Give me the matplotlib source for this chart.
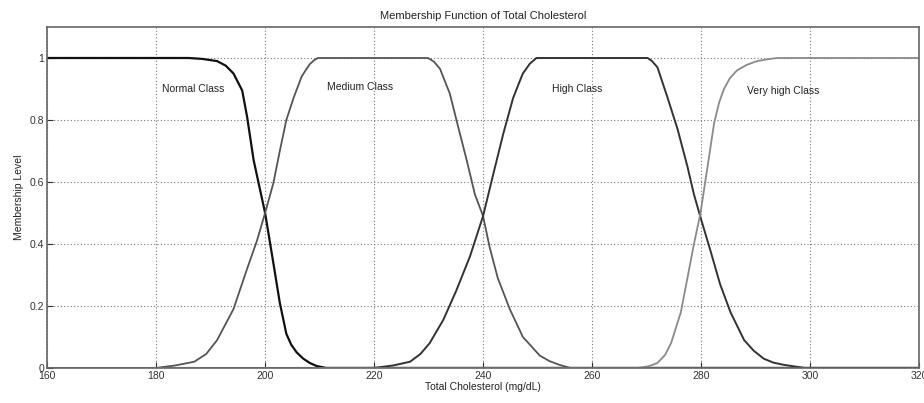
import matplotlib
matplotlib.use("Agg")
import matplotlib.pyplot as plt

# ---- data ----
normal_x = [160, 186, 188.5, 191.2, 192.8, 194.2, 195.8, 196.7, 197.9, 200, 201.5, 202.7, 203.9,
            204.8, 205.8, 207, 208.2, 209.5, 211.2, 320]
normal_y = [1, 1, 0.997, 0.99, 0.975, 0.95, 0.895, 0.81, 0.67, 0.50, 0.34, 0.21, 0.11,
            0.075, 0.05, 0.03, 0.016, 0.006, 0, 0]

medium_x = [160, 180, 183.5, 187, 189.2, 191.2, 194.2, 196.7, 198.5, 200, 201.5, 202.7, 203.9, 205.2,
            206.7, 207.5, 208.2, 209, 209.7,
            229.9, 231, 232.1, 233.9, 235.4, 237, 238.5, 240, 241.2, 242.7, 244.9, 247.3, 250.4,
            252.2, 254, 256, 320]
medium_y = [0, 0, 0.008, 0.02, 0.045, 0.09, 0.19, 0.32, 0.41, 0.50, 0.595, 0.70, 0.80, 0.87,
            0.94, 0.962, 0.98, 0.993, 1.0,
            1.0, 0.988, 0.965, 0.885, 0.78, 0.67, 0.56, 0.49, 0.39, 0.29, 0.19, 0.10, 0.04,
            0.022, 0.01, 0, 0]

high_x = [160, 220, 223.5, 226.6, 228.5, 230.2, 232.7, 235.1, 237.6, 240, 241.8, 243.7, 245.5, 246.5,
          247.3, 248.6, 249.8,
          270.2, 271, 272, 273.8, 275.7, 277.5, 278.7, 280, 281.7, 283.5, 285.4, 287.9, 289.7,
          291.5, 293.3, 295.2, 299, 320]
high_y = [0, 0, 0.008, 0.02, 0.045, 0.08, 0.155, 0.25, 0.36, 0.49, 0.62, 0.755, 0.87, 0.915,
          0.95, 0.982, 1.0,
          1.0, 0.99, 0.97, 0.875, 0.77, 0.65, 0.56, 0.48, 0.38, 0.27, 0.18, 0.09, 0.055,
          0.03, 0.017, 0.01, 0, 0]

vhigh_x = [160, 268.4, 270.5, 272, 273.4, 274.5, 276.3, 277.5, 278.7, 279.9, 281.2, 282.4, 283.3,
           284.2, 285.3, 286.6, 288.4, 290.3, 292.2, 294, 320]
vhigh_y = [0, 0, 0.006, 0.016, 0.042, 0.08, 0.18, 0.29, 0.40, 0.50, 0.65, 0.79, 0.855,
           0.90, 0.935, 0.96, 0.978, 0.99, 0.996, 1.0, 1.0]

class_labels = ["Normal Class", "Medium Class", "High Class", "Very high Class"]
label_pos_x = [181.0, 211.4, 252.7, 288.5]
label_pos_y = [0.90, 0.905, 0.90, 0.895]

x_ticks = [160, 180, 200, 220, 240, 260, 280, 300, 320]
y_ticks = [0, 0.2, 0.4, 0.6, 0.8, 1]
y_tick_labels = ["0", "0.2", "0.4", "0.6", "0.8", "1"]

plt.rcParams['font.family'] = ['Liberation Sans', 'DejaVu Sans']

fig = plt.figure(figsize=(9.24, 4.03), dpi=100)
ax = fig.add_axes([0.051, 0.087, 0.9436, 0.846])

kw = dict(solid_joinstyle="round", solid_capstyle="round")
ax.plot(normal_x, normal_y, color="#111111", lw=1.6, **kw)
ax.plot(medium_x, medium_y, color="#555555", lw=1.3, **kw)
ax.plot(high_x, high_y, color="#333333", lw=1.4, **kw)
ax.plot(vhigh_x, vhigh_y, color="#8a8a8a", lw=1.3, **kw)

for t, xx, yy in zip(class_labels, label_pos_x, label_pos_y):
    ax.text(xx, yy, t, fontsize=7.5, color="#222222", va="center", ha="left")

ax.set_xlim(160, 320)
ax.set_ylim(0, 1.1)
ax.set_xticks(x_ticks)
ax.set_yticks(y_ticks)
ax.set_yticklabels(y_tick_labels)
ax.tick_params(direction="in", length=4, labelsize=7.5, colors="#333333", pad=2)
ax.grid(True, linestyle=(0, (1, 2)), color="#777777", lw=0.8)
for s in ax.spines.values():
    s.set_color("#666666")
    s.set_linewidth(1.2)

ax.set_title("Membership Function of Total Cholesterol", fontsize=8, color="#222222", pad=6)
ax.set_xlabel("Total Cholesterol (mg/dL)", fontsize=7.5, color="#222222", labelpad=1)
ax.set_ylabel("Membership Level", fontsize=7.5, color="#222222", labelpad=4)

fig.savefig("out.png", dpi=100)
